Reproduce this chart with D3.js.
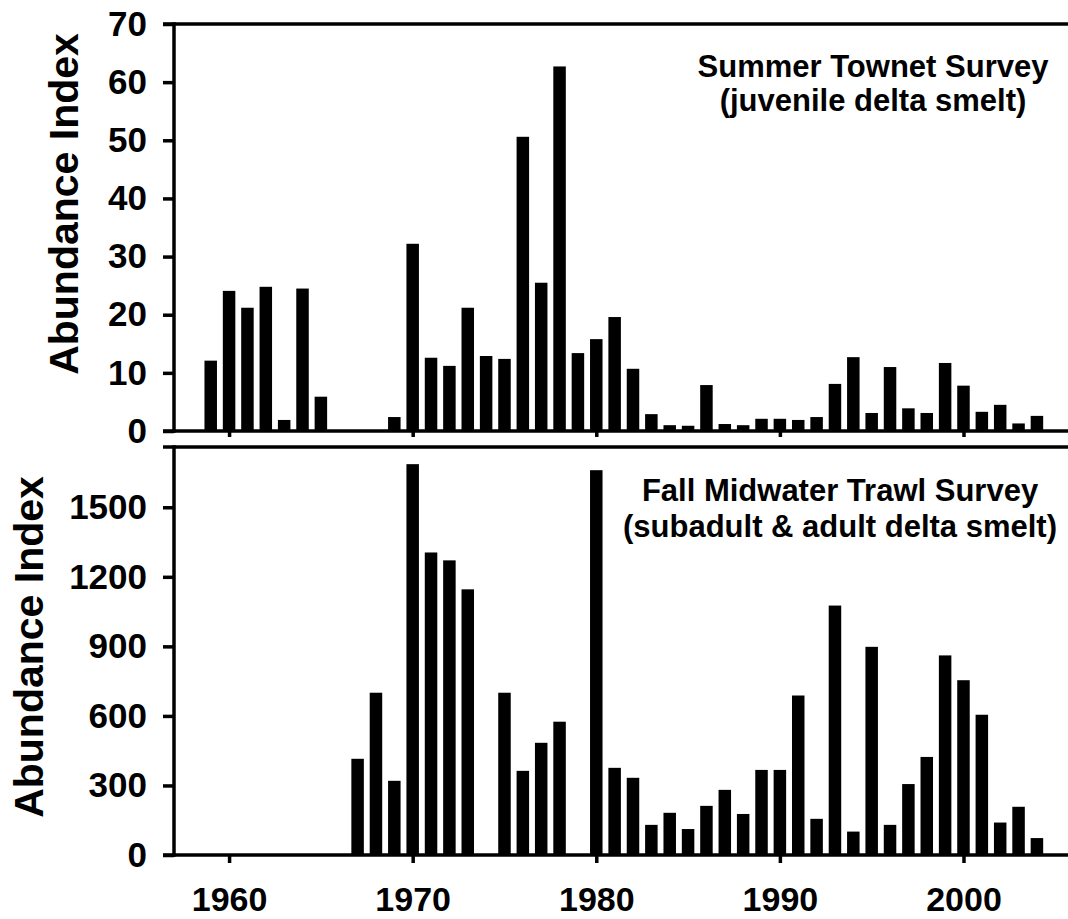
<!DOCTYPE html>
<html>
<head>
<meta charset="utf-8">
<script src="https://cdn.jsdelivr.net/npm/d3@7"></script>
<style>
  html, body { margin: 0; padding: 0; background: #fff; }
  svg { display: block; font-family: 'Liberation Sans', Arial, sans-serif; font-weight: bold; }
</style>
</head>
<body>
<svg id="chart" width="1068" height="919"></svg>
<script>
const years = [
  1959, 1960, 1961, 1962, 1963, 1964, 1965, 1966, 1967, 1968,
  1969, 1970, 1971, 1972, 1973, 1974, 1975, 1976, 1977, 1978,
  1979, 1980, 1981, 1982, 1983, 1984, 1985, 1986, 1987, 1988,
  1989, 1990, 1991, 1992, 1993, 1994, 1995, 1996, 1997, 1998,
  1999, 2000, 2001, 2002, 2003, 2004,
];
// summer townet index, null = no survey
const townetIndex = [
  12.1, 24.1, 21.2, 24.8, 1.9, 24.5, 5.9, null, null, null,
  2.4, 32.2, 12.6, 11.2, 21.2, 12.9, 12.4, 50.6, 25.5, 62.7,
  13.4, 15.8, 19.6, 10.7, 2.9, 1.0, 0.9, 7.9, 1.2, 1.0,
  2.1, 2.1, 1.9, 2.4, 8.1, 12.7, 3.1, 11.0, 3.9, 3.1,
  11.7, 7.8, 3.3, 4.5, 1.3, 2.6,
];
// fall midwater trawl index
const trawlIndex = [
  null, null, null, null, null, null, null, null, 415, 700,
  320, 1686, 1305, 1271, 1146, null, 700, 363, 484, 575,
  null, 1660, 376, 333, 130, 182, 112, 212, 281, 177,
  367, 367, 688, 156, 1076, 101, 898, 130, 306, 423,
  861, 754, 605, 140, 208, 73,
];
const townetTicks = [0, 10, 20, 30, 40, 50, 60, 70];
const trawlTicks = [0, 300, 600, 900, 1200, 1500];
const decadeTicks = [1960, 1970, 1980, 1990, 2000];
const townetTitle = ['Summer Townet Survey', '(juvenile delta smelt)'];
const trawlTitle = ['Fall Midwater Trawl Survey', '(subadult & adult delta smelt)'];

const svg = d3.select('#chart');
const AXIS_X = 174;
const RIGHT = 1068;
const LINE_W = 3.5;
const BAR_W = 12.5;

const x = d3.scaleLinear().domain([1957, 2006]).range([AXIS_X, AXIS_X + (49 * 18.36)]);

const panels = [
  {
    values: townetIndex, ticks: townetTicks, title: townetTitle,
    y: d3.scaleLinear().domain([0, 70]).range([431, 24]),
    labelX: 78, labelY: 204, titleX: 873, titleY: [77, 111], xLabels: false,
  },
  {
    values: trawlIndex, ticks: trawlTicks, title: trawlTitle,
    y: d3.scaleLinear().domain([0, 1760]).range([855, 447]),
    labelX: 43, labelY: 647, titleX: 840, titleY: [501, 537], xLabels: true,
  },
];

const drawPanel = p => {
  const g = svg.append('g');
  const [y0, y1] = p.y.range();

  g.selectAll('rect.bar')
    .data(years.map((yr, i) => [yr, p.values[i]]).filter(d => d[1] !== null))
    .join('rect')
    .attr('class', 'bar')
    .attr('x', d => x(d[0]) - (BAR_W / 2))
    .attr('width', BAR_W)
    .attr('y', d => p.y(d[1]))
    .attr('height', d => y0 - p.y(d[1]))
    .attr('fill', '#000');

  const yAxis = d3.axisLeft(p.y)
    .tickValues(p.ticks)
    .tickFormat(d3.format('d'))
    .tickSize(11)
    .tickSizeOuter(0)
    .tickPadding(16);
  const ya = g.append('g').attr('transform', `translate(${AXIS_X},0)`).call(yAxis);
  ya.select('.domain').remove();
  ya.selectAll('line').attr('stroke', '#000').attr('stroke-width', LINE_W);
  ya.selectAll('text').attr('font-size', 35).attr('fill', '#000');

  const xAxis = d3.axisBottom(x)
    .tickValues(decadeTicks)
    .tickSize(p.xLabels ? 8 : 6)
    .tickSizeOuter(0)
    .tickPadding(24)
    .tickFormat(p.xLabels ? d3.format('d') : () => '');
  const xa = g.append('g').attr('transform', `translate(0,${y0})`).call(xAxis);
  xa.select('.domain').remove();
  xa.selectAll('line').attr('stroke', '#000').attr('stroke-width', LINE_W);
  xa.selectAll('text').attr('font-size', 34).attr('fill', '#000');

  // frame: left axis, top border, zero line (open on the right)
  const frame = [
    [[AXIS_X, y1 - (LINE_W / 2)], [AXIS_X, y0 + (LINE_W / 2)]],
    [[AXIS_X - 11, y1], [RIGHT, y1]],
    [[AXIS_X - 11, y0], [RIGHT, y0]],
  ];
  g.selectAll('line.frame')
    .data(frame)
    .join('line')
    .attr('class', 'frame')
    .attr('x1', d => d[0][0]).attr('y1', d => d[0][1])
    .attr('x2', d => d[1][0]).attr('y2', d => d[1][1])
    .attr('stroke', '#000')
    .attr('stroke-width', LINE_W);

  g.append('text')
    .attr('transform', `translate(${p.labelX},${p.labelY}) rotate(-90)`)
    .attr('text-anchor', 'middle')
    .attr('font-size', 41)
    .text('Abundance Index');

  g.selectAll('text.title')
    .data(p.title)
    .join('text')
    .attr('class', 'title')
    .attr('x', p.titleX)
    .attr('y', (d, i) => p.titleY[i])
    .attr('text-anchor', 'middle')
    .attr('font-size', 31)
    .text(d => d);
};

panels.forEach(drawPanel);
</script>
</body>
</html>
